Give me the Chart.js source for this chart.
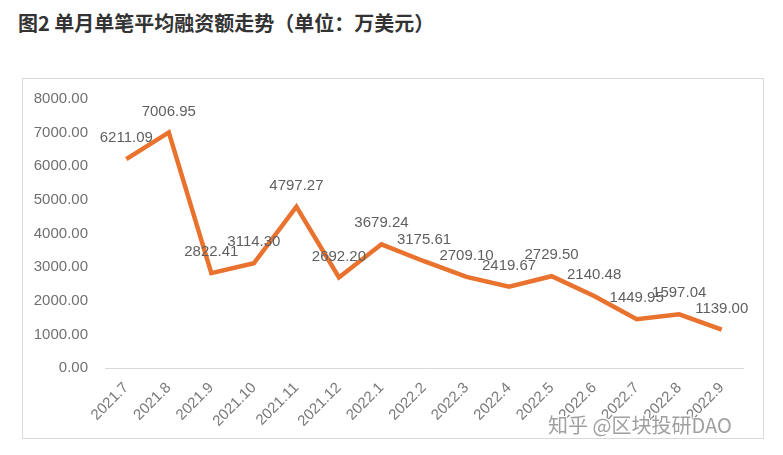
<!DOCTYPE html>
<html>
<head>
<meta charset="utf-8">
<script src="https://cdn.jsdelivr.net/npm/chart.js@4/dist/chart.umd.min.js"></script>
<style>
  body { margin: 0; background: #fff; width: 783px; height: 455px; position: relative; overflow: hidden; }
  #title { position: absolute; left: 18px; top: 8px; font: bold 20px "Noto Sans CJK SC", sans-serif; color: #333; white-space: nowrap; }
  #box { position: absolute; left: 22px; top: 78px; width: 740px; height: 359px; border: 1px solid #d9d9d9; }
  #wrap { position: absolute; left: 0; top: 0; width: 783px; height: 455px; }
  #mark { position: absolute; left: 548px; top: 410px; font: 20px "Noto Sans CJK SC", sans-serif; color: #a0a0a0;
          text-shadow: -1px -1px 0 #fff, 1px -1px 0 #fff, -1px 1px 0 #fff, 1px 1px 0 #fff; white-space: nowrap; }
</style>
</head>
<body>
<div id="title">图2 单月单笔平均融资额走势（单位：万美元）</div>
<div id="box"></div>
<div id="wrap"><canvas id="avg_chart"></canvas></div>
<div id="mark">知乎 @区块投研DAO</div>
<script>
const months = ['2021.7', '2021.8', '2021.9', '2021.10', '2021.11', '2021.12', '2022.1', '2022.2',
  '2022.3', '2022.4', '2022.5', '2022.6', '2022.7', '2022.8', '2022.9'];
const avg_amount = [6211.09, 7006.95, 2822.41, 3114.30, 4797.27, 2692.20, 3679.24, 3175.61,
  2709.10, 2419.67, 2729.50, 2140.48, 1449.95, 1597.04, 1139.00];
const y_ticks = [0, 1000, 2000, 3000, 4000, 5000, 6000, 7000, 8000];

const text_color = '#666';

// value labels above each point
const value_labels = {
  id: 'value_labels',
  afterDatasetsDraw(chart) {
    const ctx = chart.ctx;
    const meta = chart.getDatasetMeta(0);
    ctx.save();
    ctx.font = '15px "Liberation Sans", Arial, sans-serif';
    ctx.fillStyle = '#5f5f5f';
    ctx.textAlign = 'center';
    ctx.textBaseline = 'middle';
    meta.data.forEach((pt, i) => {
      ctx.fillText(avg_amount[i].toFixed(2), pt.x, pt.y - 21);
    });
    ctx.restore();
  }
};

const avg_ctx = document.getElementById('avg_chart');
const avg_chart = new Chart(avg_ctx, {
  type: 'line',
  data: {
    labels: months,
    datasets: [{
      data: avg_amount,
      borderColor: '#E8722E',
      borderWidth: 4.5,
      pointRadius: 0,
      tension: 0,
      borderJoinStyle: 'miter'
    }]
  },
  options: {
    responsive: true,
    maintainAspectRatio: false,
    animation: false,
    layout: { padding: { left: 0, right: 40, top: 99, bottom: 0 } },
    plugins: {
      legend: { display: false },
      tooltip: { enabled: false }
    },
    scales: {
      x: {
        offset: true,
        grid: { display: false },
        border: { display: true, color: '#d9d9d9', width: 1 },
        ticks: {
          color: '#7a7a7a',
          font: { size: 15, family: '"Liberation Sans", Arial, sans-serif' },
          maxRotation: 45,
          minRotation: 45,
          autoSkip: false,
          padding: 3
        },
        afterFit(scale) { scale.height = 87; }
      },
      y: {
        min: 0,
        max: 8000,
        afterBuildTicks(scale) { scale.ticks = y_ticks.map(v => ({ value: v })); },
        grid: { display: false, drawTicks: false },
        border: { display: false },
        ticks: {
          color: '#707070',
          font: { size: 15, family: '"Liberation Sans", Arial, sans-serif' },
          padding: 17,
          callback: v => Number(v).toFixed(2)
        },
        afterFit(scale) { scale.width = 105; }
      }
    }
  },
  plugins: [value_labels]
});
</script>
</body>
</html>
